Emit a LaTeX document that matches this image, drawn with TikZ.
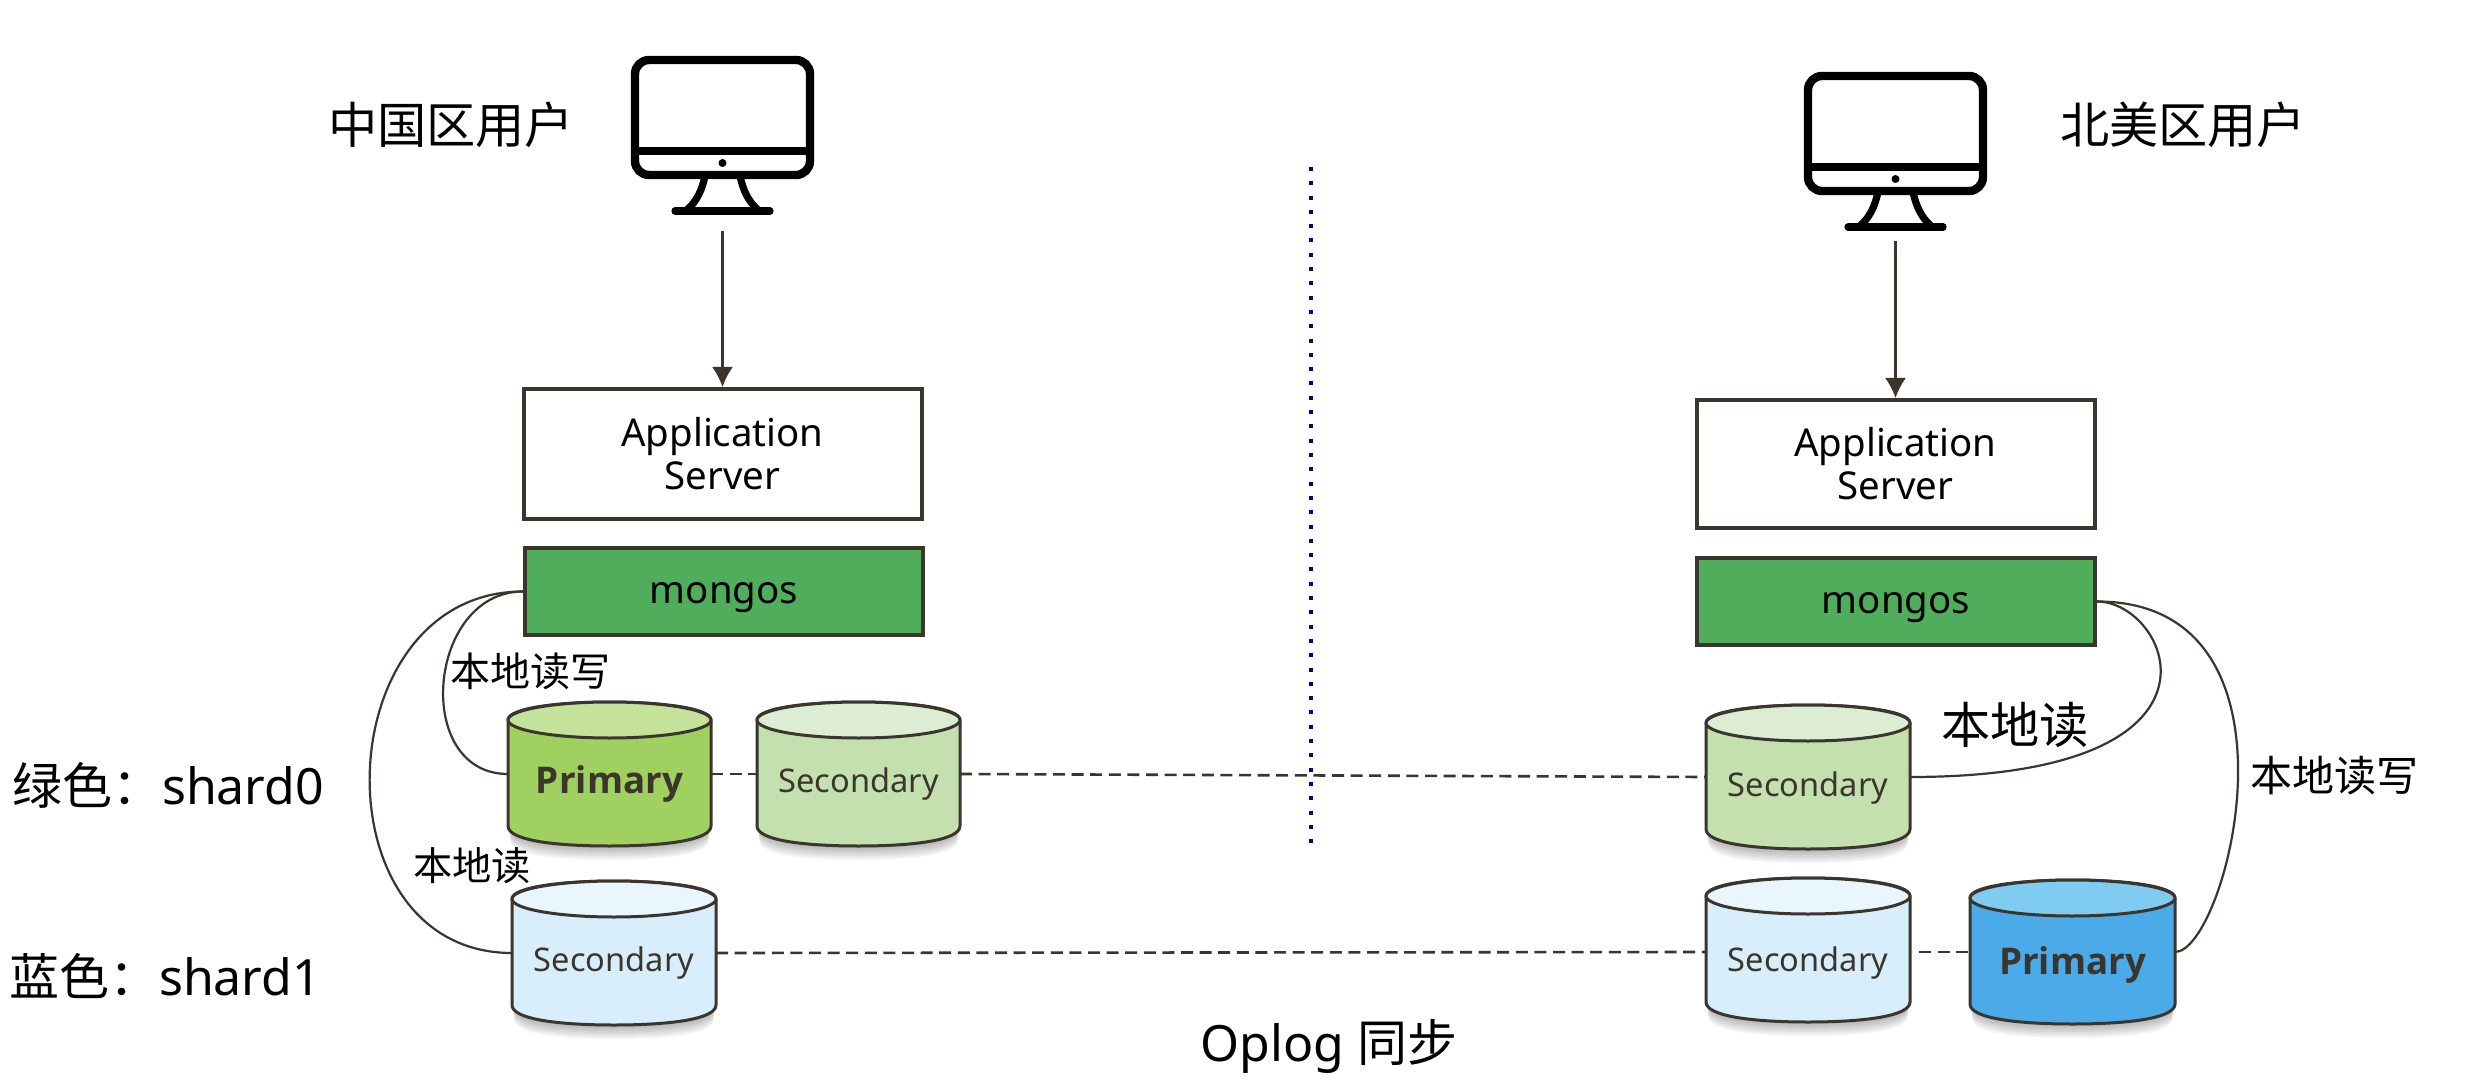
\documentclass[tikz,border=0pt]{standalone}
\usepackage{fontspec}
\setmainfont{Noto Sans}
\newfontfamily\cjk{Noto Sans CJK SC}
\newfontfamily\boldlatin{Open Sans}
\usetikzlibrary{arrows.meta}
\definecolor{ink}{HTML}{3B362D}
\definecolor{mongofill}{HTML}{4FAD5B}
\definecolor{gpfill}{HTML}{A0D060}
\definecolor{gptop}{HTML}{C4E29A}
\definecolor{gsfill}{HTML}{C4E0AE}
\definecolor{gstop}{HTML}{DDEDD3}
\definecolor{bsfill}{HTML}{D9EEFC}
\definecolor{bstop}{HTML}{EAF6FE}
\definecolor{bpfill}{HTML}{4AABE8}
\definecolor{bptop}{HTML}{80CBF2}
\definecolor{divider}{HTML}{00008B}
\tikzset{
  x=0.5pt,y=-0.5pt,
  boxnode/.style={draw=ink,line width=2pt,inner sep=0pt,minimum width=199pt,align=center,font=\fontsize{19.2}{21.5}\selectfont},
  cylbody/.style={draw=ink,line width=1.5pt,line join=round},
  link/.style={draw=ink,line width=1.1pt},
  flow/.style={draw=ink,line width=1.1pt,-{Latex[length=10pt,width=10.5pt]}},
  sync/.style={draw=ink,line width=1.3pt,dash pattern=on 6pt off 3.3pt},
  screen/.style={draw=black,line width=4.2pt},
  cnlabel/.style={inner sep=0pt,text=black},
  dblabel/.style={inner sep=0pt,text=ink}
}
% name, x1, x2, top, bottom, body fill, top fill, label, label options
\newcommand{\dbcyl}[9]{%
  \foreach \s in {2,4,...,14}{
    \fill[black,opacity=0.045] (#2+2,#5-20+\s) -- (#2+2,#5-18) -- (#3-2,#5-18) -- (#3-2,#5-20+\s)
      .. controls (#3-2,#5-8+\s) and (#3-30,#5+\s) .. ({(#2+#3)/2},#5+\s)
      .. controls (#2+30,#5+\s) and (#2+2,#5-8+\s) .. cycle;
  }
  \path[cylbody,fill=#6] (#2,#4+18) -- (#2,#5-20)
    .. controls (#2,#5-6) and (#2+45,#5) .. ({(#2+#3)/2},#5)
    .. controls (#3-45,#5) and (#3,#5-6) .. (#3,#5-20) -- (#3,#4+18)
    .. controls (#3,#4-6) and (#2,#4-6) .. cycle;
  \path[cylbody,fill=#7] ({(#2+#3)/2},{#4+18}) ellipse [x radius={(#3-#2)/2},y radius=18];
  \node[minimum width={(#3-#2)*0.5pt},minimum height={(#5-#4)*0.5pt},inner sep=0pt,outer sep=0pt] (#1) at ({(#2+#3)/2},{(#4+#5)/2}) {};
  \node[dblabel,#9] (#1t) at ({(#2+#3)/2},{(#4+#5)/2}) {#8};
}
\newcommand{\monitorshape}[2]{%
  \begin{scope}[shift={(#1,#2)}]
    \draw[screen,rounded corners=7pt] (635,60) rectangle (810,175);
    \draw[screen] (635,151) -- (810,151);
    \fill[black] (722.5,163) circle [radius=4];
    \draw[black,line width=3.6pt] (705,176) .. controls (702,190) and (697,201) .. (687,210);
    \draw[black,line width=3.6pt] (740,176) .. controls (743,190) and (748,201) .. (758,210);
    \draw[black,line width=3.6pt,line cap=round] (675,211) -- (770,211);
  \end{scope}
}
\newcommand{\fwcolon}{\symbol{"FF1A}}
\tikzset{
  secfont/.style={font=\fontsize{16.3}{19}\selectfont},
  prifont/.style={font=\boldlatin\bfseries\fontsize{18.4}{21}\selectfont}
}
\begin{document}
\begin{tikzpicture}
\useasboundingbox (0,0) rectangle (2488,1080);
\fill[white] (0,0) rectangle (2488,1080);

% divider
\draw[color=divider,line width=2pt,dash pattern=on 2pt off 5.15pt] (1311,167) -- (1311,844);

% monitors
\monitorshape{0}{0}
\monitorshape{1173}{16}
\coordinate (cnuser) at (722.5,231);
\coordinate (nauser) at (1895.5,241);

% user labels
\node[cnlabel,font=\cjk\fontsize{24.6}{27}\selectfont] (cnlab) at (451,125) {中国区用户};
\node[cnlabel,font=\cjk\fontsize{24.6}{27}\selectfont] (nalab) at (2183,125) {北美区用户};

% app servers
\node[boxnode,minimum height=65pt] (appL) at (722.5,454) {Application\\Server};
\node[boxnode,minimum height=64pt] (appR) at (1895.5,464) {Application\\Server};
\node[boxnode,fill=mongofill,minimum height=43.5pt,text height=14pt,text depth=2pt] (monL) at (724,591.5) {mongos};
\node[boxnode,fill=mongofill,minimum height=43.5pt,text height=14pt,text depth=2pt] (monR) at (1896,601.5) {mongos};

\draw[flow] (cnuser) -- (appL.north);
\draw[flow] (nauser) -- (appR.north);

% databases
\dbcyl{gpL}{508}{711}{702}{846}{gpfill}{gptop}{Primary}{prifont,yshift=-5pt}
\dbcyl{gsL}{757}{960}{702}{846}{gsfill}{gstop}{Secondary}{secfont,yshift=-5pt}
\dbcyl{bsL}{512}{716}{881}{1025}{bsfill}{bstop}{Secondary}{secfont,yshift=-5pt}
\dbcyl{gsR}{1706}{1910}{705}{849}{gsfill}{gstop}{Secondary}{secfont,yshift=-5.5pt}
\dbcyl{bsR}{1706}{1910}{878}{1022}{bsfill}{bstop}{Secondary}{secfont,yshift=-6.5pt}
\dbcyl{bpR}{1970}{2175}{880}{1024}{bpfill}{bptop}{Primary}{prifont,yshift=-6.5pt}

% sync lines
\draw[sync] (gpL.east) -- (gsL.west);
\draw[sync] (gsL.east) -- (gsR.west);
\draw[sync] (bsL.east) -- ([yshift=-1pt]bsR.west);
\draw[sync] ([xshift=4.5pt,yshift=-1pt]bsR.east) -- (bpR.west);

% curves
\draw[link] (monL.west) .. controls +(-96,0) and +(-96,0) .. (gpL.west);
\draw[link] (monL.west) .. controls +(-197,0) and +(-197,0) .. (bsL.west);
\draw[link] (monR.east) .. controls +(72,0) and +(340,0) .. (gsR.east);
\draw[link] (monR.east) .. controls +(220,0) and +(52,0) .. (bpR.east);

% labels
\node[cnlabel,font=\cjk\fontsize{20}{22}\selectfont] (l1) at (530,671) {本地读写};
\node[cnlabel,font=\cjk\fontsize{19.6}{22}\selectfont] (l2) at (472,866) {本地读};
\node[cnlabel,font=\cjk\fontsize{24.6}{27}\selectfont] (l3) at (2015,725) {本地读};
\node[cnlabel,font=\cjk\fontsize{21}{23}\selectfont] (l4) at (2334,776) {本地读写};
\node[cnlabel,font=\fontsize{25}{27}\selectfont] (s0) at (168,785) {{\cjk 绿色\fwcolon}shard0};
\node[cnlabel,font=\fontsize{25}{27}\selectfont] (s1) at (165,976) {{\cjk 蓝色\fwcolon}shard1};
\node[cnlabel,font=\fontsize{25}{27}\selectfont] (op) at (1329,1046) {Oplog {\cjk 同步}};
\end{tikzpicture}
\end{document}
